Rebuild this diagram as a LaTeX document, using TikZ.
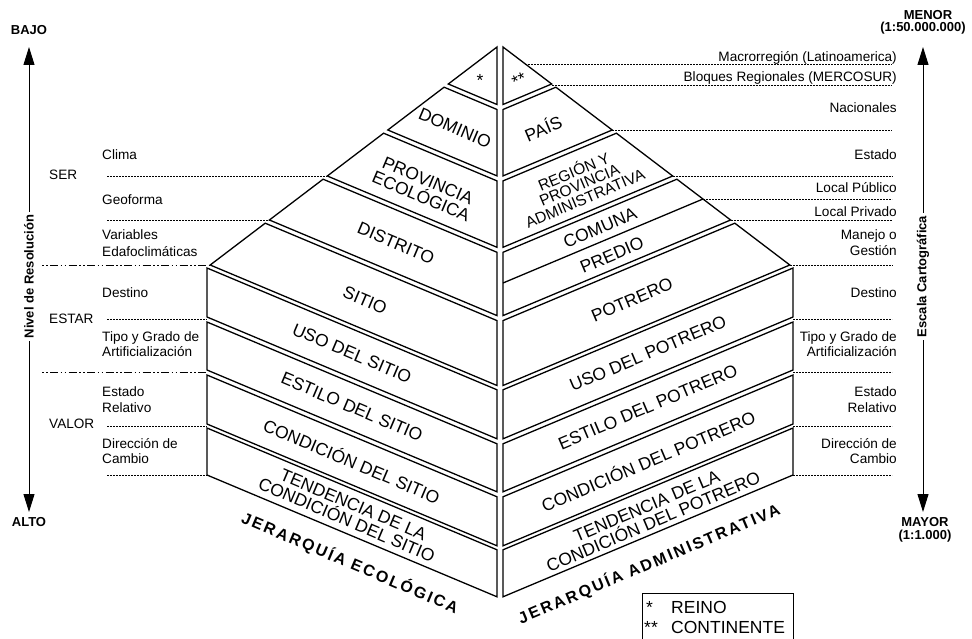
\documentclass[tikz,border=0pt]{standalone}
\usepackage{fontspec}
\setmainfont{Liberation Sans}
\newfontfamily\jerfont{Liberation Sans}[LetterSpace=14]
\usetikzlibrary{arrows.meta}
\newcommand\halfpyr{%
  \draw[layer] (497,47) -- (448.3,84) -- (497,104.5) -- cycle;
  \draw[layer] (497,109.5) -- (444.1,87.2) -- (387.8,130) -- (497,175.9) -- cycle;
  \draw[layer] (497,180.9) -- (383.6,133.2) -- (327.3,176) -- (497,247.3) -- cycle;
  \draw[layer] (497,252.3) -- (323.1,179.2) -- (269.4,220) -- (497,315.6) -- cycle;
  \draw[layer] (497,320.6) -- (265.2,223.2) -- (210.2,265) -- (497,385.5) -- cycle;
  \draw[layer] (207,268) -- (497,389.8) -- (497,438.8) -- (207,317) -- cycle;
  \draw[layer] (207,322) -- (497,443.8) -- (497,491.8) -- (207,370) -- cycle;
  \draw[layer] (207,375) -- (497,496.8) -- (497,545.8) -- (207,424) -- cycle;
  \draw[layer] (207,428) -- (497,549.8) -- (497,596.8) -- (207,475) -- cycle;
}
\begin{document}
\begin{tikzpicture}[x=1pt,y=-1pt,
  layer/.style={draw,line width=1.3pt,line join=miter},
  lay/.style={font=\fontsize{17.5}{17}\selectfont,align=center,inner sep=0pt},
  lbl/.style={font=\fontsize{13.6}{15.5}\selectfont,inner sep=0pt},
  bl/.style={font=\bfseries\fontsize{13}{15.5}\selectfont,inner sep=0pt},
  guide/.style={line width=0.9pt,dash pattern=on 2pt off 1pt},
  guidedd/.style={line width=0.9pt,dash pattern=on 1.5pt off 2.5pt on 1.5pt off 2.5pt on 8pt off 2.5pt},
  axis/.style={line width=1pt,{Triangle[length=18pt,width=11pt]}-{Triangle[length=18pt,width=11pt]}},
  jer/.style={font=\jerfont\bfseries\fontsize{16}{18}\selectfont,inner sep=0pt}]
\useasboundingbox (0,0) rectangle (972,639);

% ---------- pyramid halves ----------
\begin{scope}
  \halfpyr
\end{scope}
\begin{scope}[shift={(1000,0)},xscale=-1]
  \halfpyr
\end{scope}
\coordinate (divA) at (503,283);
\coordinate (divB) at (703,199);
\draw[layer] (divA) -- (divB);

% ---------- pyramid texts, left ----------
\node[lay] (st) at (480,80) {*};
\node[lay,rotate=-23] (dominio) at (455,128) {DOMINIO};
\node[lay,rotate=-23] (prov) at (424.5,188.5) {PROVINCIA\\ECOLÓGICA};
\node[lay,rotate=-23] (distrito) at (396,243) {DISTRITO};
\node[lay,rotate=-23] (sitio) at (365,300) {SITIO};
\node[lay,rotate=-23] (usoS) at (352,353.4) {USO DEL SITIO};
\node[lay,rotate=-23] (estiloS) at (352,406.9) {ESTILO DEL SITIO};
\node[lay,rotate=-23] (condS) at (352,460.4) {CONDICIÓN DEL SITIO};
\node[lay,rotate=-23] (tendS) at (350,512.4) {TENDENCIA DE LA\\CONDICIÓN DEL SITIO};

% ---------- pyramid texts, right ----------
\node[lay,rotate=23] (sst) at (519,80) {**};
\node[lay,rotate=23] (pais) at (543,128) {PAÍS};
\node[lay,rotate=23,font=\fontsize{15.5}{14.5}\selectfont] (region) at (579,184) {REGIÓN Y\\PROVINCIA\\ADMINISTRATIVA};
\node[lay,rotate=23] (comuna) at (600,228) {COMUNA};
\node[lay,rotate=23] (predio) at (612,255) {PREDIO};
\node[lay,rotate=23] (potrero) at (632,300) {POTRERO};
\node[lay,rotate=23] (usoP) at (648,353.4) {USO DEL POTRERO};
\node[lay,rotate=23] (estiloP) at (648,406.9) {ESTILO DEL POTRERO};
\node[lay,rotate=23] (condP) at (648,460.4) {CONDICIÓN DEL POTRERO};
\node[lay,rotate=23] (tendP) at (650,514) {TENDENCIA DE LA\\CONDICIÓN DEL POTRERO};

% ---------- hierarchy titles ----------
\node[jer,rotate=-23] (jeco) at (350,563) {JERARQUÍA ECOLÓGICA};
\node[jer,rotate=23] (jadm) at (649,564) {JERARQUÍA ADMINISTRATIVA};

% ---------- left guide lines ----------
\coordinate (gl1) at (107,176);   \coordinate (gl1e) at (327.3,176);
\coordinate (gl2) at (107,220);   \coordinate (gl2e) at (269.4,220);
\coordinate (gl3) at (42,265);    \coordinate (gl3e) at (210.2,265);
\coordinate (gl4) at (107,319.5); \coordinate (gl4e) at (207,319.5);
\coordinate (gl5) at (42,372.5);  \coordinate (gl5e) at (207,372.5);
\coordinate (gl6) at (107,426);   \coordinate (gl6e) at (207,426);
\coordinate (gl7) at (107,475);   \coordinate (gl7e) at (207,475);
\draw[guide] (gl1) -- (gl1e);
\draw[guide] (gl2) -- (gl2e);
\draw[guidedd] (gl3) -- (gl3e);
\draw[guide] (gl4) -- (gl4e);
\draw[guidedd] (gl5) -- (gl5e);
\draw[guide] (gl6) -- (gl6e);
\draw[guide] (gl7) -- (gl7e);

% ---------- right guide lines ----------
\coordinate (gr1) at (525.4,64);  \coordinate (gr1e) at (892,64);
\coordinate (gr2) at (551.7,85);  \coordinate (gr2e) at (892,85);
\coordinate (gr3) at (612.2,130); \coordinate (gr3e) at (892,130);
\coordinate (gr4) at (672.7,176); \coordinate (gr4e) at (892,176);
\coordinate (gr5) at (divB);      \coordinate (gr5e) at (892,199);
\coordinate (gr6) at (730.6,220); \coordinate (gr6e) at (892,220);
\coordinate (gr7) at (789.8,265); \coordinate (gr7e) at (892,265);
\coordinate (gr8) at (793,319.5); \coordinate (gr8e) at (892,319.5);
\coordinate (gr9) at (793,372.5); \coordinate (gr9e) at (892,372.5);
\coordinate (gr10) at (793,426); \coordinate (gr10e) at (892,426);
\coordinate (gr11) at (793,475); \coordinate (gr11e) at (892,475);
\foreach \i in {1,...,11} {\draw[guide] (gr\i) -- (gr\i e);}

% ---------- left labels ----------
\node[lbl,anchor=base west] (clima) at (102,160) {Clima};
\node[lbl,anchor=base west] (geo) at (102,204.5) {Geoforma};
\node[lbl,anchor=base west] (var) at (102,240) {Variables};
\node[lbl,anchor=base west] (edaf) at (102,256) {Edafoclimáticas};
\node[lbl,anchor=base west] (destL) at (102,298) {Destino};
\node[lbl,anchor=base west] (tipoL) at (102,341) {Tipo y Grado de};
\node[lbl,anchor=base west] (artL) at (102,356.5) {Artificialización};
\node[lbl,anchor=base west] (estL) at (102,396.5) {Estado};
\node[lbl,anchor=base west] (relL) at (102,412) {Relativo};
\node[lbl,anchor=base west] (dirL) at (102,448) {Dirección de};
\node[lbl,anchor=base west] (camL) at (102,463.5) {Cambio};
\node[lbl,anchor=base west] (ser) at (49,180) {SER};
\node[lbl,anchor=base west] (estar) at (49,323) {ESTAR};
\node[lbl,anchor=base west] (valor) at (49,428) {VALOR};

% ---------- right labels ----------
\node[lbl,anchor=base east] (macro) at (897,61.5) {Macrorregión (Latinoamerica)};
\node[lbl,anchor=base east] (bloq) at (897,82) {Bloques Regionales (MERCOSUR)};
\node[lbl,anchor=base east] (nac) at (897,113) {Nacionales};
\node[lbl,anchor=base east] (estado) at (897,160) {Estado};
\node[lbl,anchor=base east] (lpub) at (897,193) {Local Público};
\node[lbl,anchor=base east] (lpriv) at (897,216.5) {Local Privado};
\node[lbl,anchor=base east] (manejo) at (897,239.5) {Manejo o};
\node[lbl,anchor=base east] (gest) at (897,255) {Gestión};
\node[lbl,anchor=base east] (destR) at (897,298) {Destino};
\node[lbl,anchor=base east] (tipoR) at (897,341) {Tipo y Grado de};
\node[lbl,anchor=base east] (artR) at (897,356.5) {Artificialización};
\node[lbl,anchor=base east] (estR) at (897,396.5) {Estado};
\node[lbl,anchor=base east] (relR) at (897,412) {Relativo};
\node[lbl,anchor=base east] (dirR) at (897,448) {Dirección de};
\node[lbl,anchor=base east] (camR) at (897,463.5) {Cambio};

% ---------- axes ----------
\coordinate (laT) at (29,47);  \coordinate (laB) at (29,512);
\coordinate (raT) at (923,47); \coordinate (raB) at (923,512);
\draw[axis] (laT) -- (laB);
\draw[axis] (raT) -- (raB);
\node[bl,rotate=90,fill=white,inner sep=3pt] (nivel) at (29,276.5) {Nivel de Resolución};
\node[bl,rotate=90,fill=white,inner sep=3pt] (escala) at (923,276.5) {Escala Cartográfica};
\node[bl,anchor=base] (bajo) at (29,35) {BAJO};
\node[bl,anchor=base] (alto) at (29,526) {ALTO};
\node[bl,anchor=base] (menor) at (928,20) {MENOR};
\node[bl,anchor=base] (menor2) at (923,32) {(1:50.000.000)};
\node[bl,anchor=base] (mayor) at (925,526) {MAYOR};
\node[bl,anchor=base] (mayor2) at (925,539) {(1:1.000)};

% ---------- legend ----------
\coordinate (lg1) at (642,645); \coordinate (lg2) at (642,593);
\coordinate (lg3) at (793,593); \coordinate (lg4) at (793,645);
\draw[line width=1pt] (lg1) -- (lg2) -- (lg3) -- (lg4);
\node[lay,anchor=base west] (lst1) at (646,613) {*};
\node[lay,anchor=base west] (reino) at (671,613) {REINO};
\node[lay,anchor=base west] (lst2) at (644,633) {**};
\node[lay,anchor=base west] (cont) at (671,633) {CONTINENTE};
\end{tikzpicture}
\end{document}
